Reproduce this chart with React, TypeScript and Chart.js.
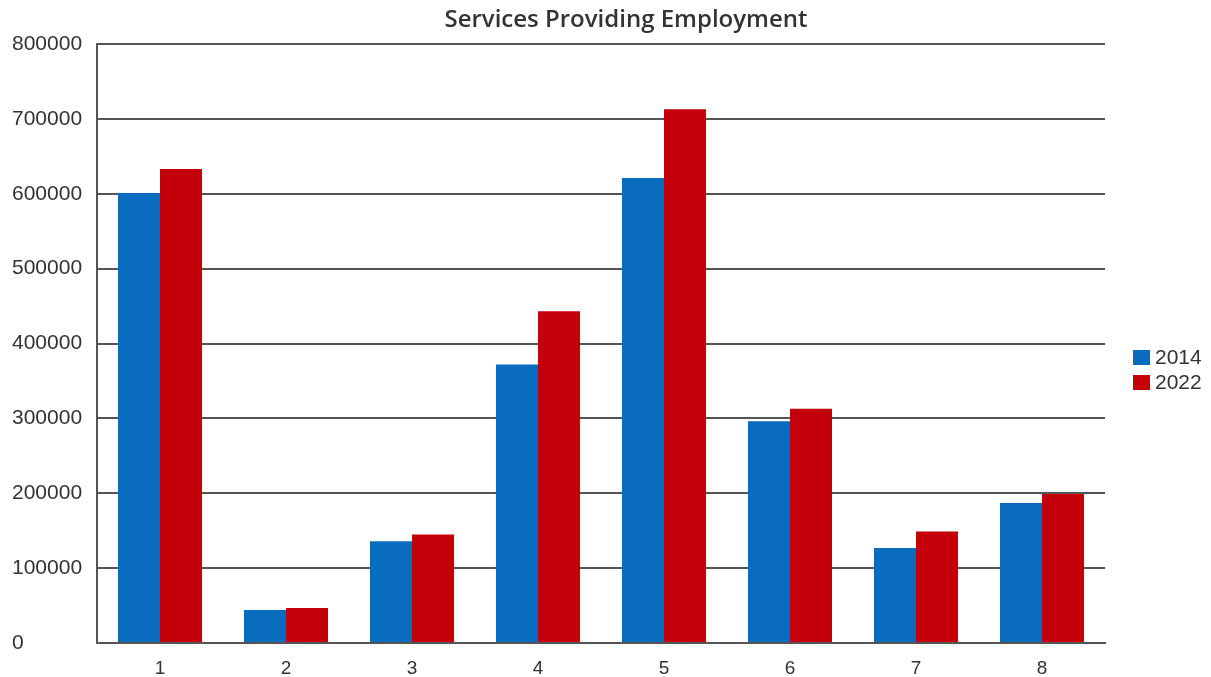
import React, { useEffect, useRef } from "react";
import { Chart, registerables } from "chart.js";

Chart.register(...registerables);

const categories = ["1", "2", "3", "4", "5", "6", "7", "8"];
const series2014 = [601000, 44000, 136000, 372000, 621000, 296000, 127000, 187000];
const series2022 = [633000, 46700, 145000, 443000, 713000, 313000, 149000, 199000];
const seriesNames = ["2014", "2022"];
const titleText = "Services Providing Employment";

const BLUE = "#0a6cbf";
const RED = "#c4000a";

const titleLegendPlugin = {
  id: "titleLegend",
  afterDraw(chart: any) {
    const { ctx, chartArea } = chart;
    ctx.save();
    // title
    ctx.font = "600 24px 'Open Sans'";
    ctx.fillStyle = "#333333";
    ctx.textAlign = "center";
    ctx.textBaseline = "middle";
    ctx.fillText(titleText, (chartArea.left + chartArea.right) / 2 + 25, 20);
    // legend
    const ds = chart.data.datasets;
    const mid = (chartArea.top + chartArea.bottom) / 2 + 26;
    const rowH = 25;
    const startY = mid - ((ds.length - 1) * rowH) / 2;
    ctx.font = "21px 'Liberation Sans'";
    ctx.textAlign = "left";
    ds.forEach((d: any, i: number) => {
      const y = startY + i * rowH;
      ctx.fillStyle = d.backgroundColor;
      ctx.fillRect(chartArea.right + 28, y - 7, 17, 15);
      ctx.fillStyle = "#333333";
      ctx.fillText(d.label, chartArea.right + 50, y + 1);
    });
    ctx.restore();
  },
};

export default function App() {
  const ref = useRef<HTMLCanvasElement | null>(null);
  useEffect(() => {
    document.body.style.margin = "0";
    const chart = new Chart(ref.current as HTMLCanvasElement, {
      type: "bar",
      data: {
        labels: categories,
        datasets: [
          { label: seriesNames[0], data: series2014, backgroundColor: BLUE, borderWidth: 0 },
          { label: seriesNames[1], data: series2022, backgroundColor: RED, borderWidth: 0 },
        ],
      },
      options: {
        animation: false,
        responsive: false,
        maintainAspectRatio: false,
        layout: { padding: { left: 12, top: 44, right: 106, bottom: 0 } },
        datasets: { bar: { barPercentage: 1, categoryPercentage: 0.667 } },
        plugins: {
          legend: { display: false },
          title: { display: false },
          tooltip: { enabled: false },
        },
        scales: {
          x: {
            grid: { display: false, drawTicks: false },
            border: { display: true, color: "#555555", width: 2 },
            ticks: {
              color: "#333333",
              font: { family: "'Liberation Sans'", size: 19 },
              padding: 14,
            },
            afterFit: (s: any) => {
              s.height = 34;
            },
          },
          y: {
            min: 0,
            max: 800000,
            ticks: {
              stepSize: 100000,
              color: "#333333",
              crossAlign: "far",
              font: { family: "'Liberation Sans'", size: 21 },
              padding: 14,
              callback: (v: any) => String(v),
            },
            grid: { color: "#555555", lineWidth: 2, drawTicks: false },
            border: { display: true, color: "#555555", width: 2 },
            afterFit: (s: any) => {
              s.width = 85;
            },
          },
        },
      },
      plugins: [titleLegendPlugin],
    });
    return () => chart.destroy();
  }, []);
  return <canvas ref={ref} width={1211} height={677} style={{ display: "block" }} />;
}
